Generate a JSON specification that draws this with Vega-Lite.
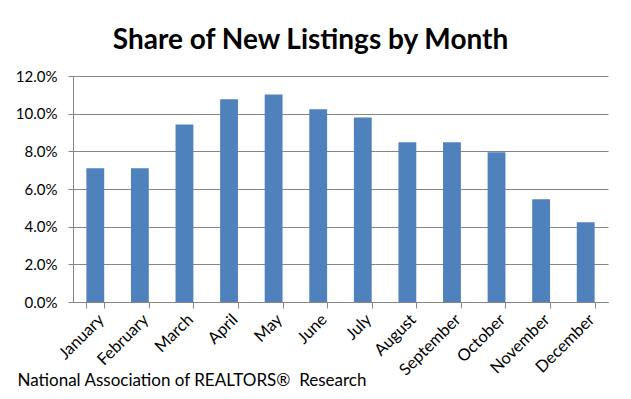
{
  "$schema": "https://vega.github.io/schema/vega-lite/v6.json",
  "width": 535,
  "height": 226,
  "autosize": {"type": "none"},
  "padding": {"left": 73, "top": 76, "right": 23, "bottom": 97},
  "background": "white",
  "title": {
    "text": "Share of New Listings by Month",
    "font": "Lato",
    "fontSize": 28,
    "fontWeight": "bold",
    "color": "black",
    "anchor": "middle",
    "dx": -30,
    "offset": -8,
    "baseline": "alphabetic"
  },
  "data": {
    "values": [
      {"month": "January", "share": 0.071},
      {"month": "February", "share": 0.071},
      {"month": "March", "share": 0.0943},
      {"month": "April", "share": 0.1076},
      {"month": "May", "share": 0.1102},
      {"month": "June", "share": 0.1023},
      {"month": "July", "share": 0.098},
      {"month": "August", "share": 0.0848},
      {"month": "September", "share": 0.0848},
      {"month": "October", "share": 0.0795},
      {"month": "November", "share": 0.0546},
      {"month": "December", "share": 0.0424}
    ]
  },
  "mark": {"type": "bar", "color": "#4F81BD"},
  "encoding": {
    "x": {
      "field": "month",
      "type": "nominal",
      "sort": null,
      "scale": {"paddingInner": 0.6, "paddingOuter": 0.3},
      "axis": {
        "title": "National Association of REALTORS®\u00a0 Research",
        "titleFont": "Lato",
        "titleFontSize": 17,
        "titleFontWeight": "normal",
        "titleColor": "black",
        "titleAlign": "left",
        "titleAnchor": "start",
        "titleBaseline": "alphabetic",
        "titleX": -56,
        "titleY": 83,
        "labelAngle": -45,
        "labelFont": "Lato",
        "labelFontSize": 16.5,
        "labelColor": "black",
        "labelPadding": 3,
        "labelOverlap": false,
        "tickBand": "extent",
        "tickSize": 6,
        "tickColor": "#868686",
        "domainColor": "#868686",
        "grid": false
      }
    },
    "y": {
      "field": "share",
      "type": "quantitative",
      "scale": {"domain": [0, 0.12], "nice": false},
      "axis": {
        "title": null,
        "format": ".1%",
        "values": [0, 0.02, 0.04, 0.06, 0.08, 0.1, 0.12],
        "labelFont": "Lato",
        "labelFontSize": 15,
        "labelColor": "black",
        "labelPadding": 11,
        "tickSize": 5,
        "tickColor": "#868686",
        "domainColor": "#868686",
        "gridColor": "#868686",
        "grid": true
      }
    }
  },
  "config": {"view": {"stroke": null}}
}
